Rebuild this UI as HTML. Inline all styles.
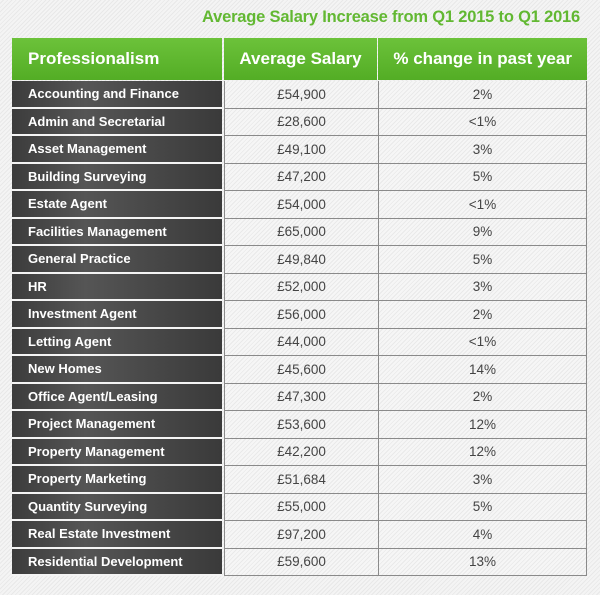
<!DOCTYPE html>
<html><head><meta charset="utf-8"><style>
body{margin:0;width:600px;height:595px;overflow:hidden;font-family:"Liberation Sans",Arial,sans-serif;
background:repeating-linear-gradient(135deg,#f4f4f4 0 2px,#e8e8e8 2px 3px);}
#title{position:absolute;right:20px;top:8px;font-size:16.5px;font-weight:bold;color:#62b832;letter-spacing:-0.2px}
#hdr{position:absolute;left:12px;top:38px;width:575px;height:42px;display:flex}
#hdr div{background:linear-gradient(180deg,#6cc23a,#53ad25);color:#fff;font-weight:bold;font-size:17px;display:flex;align-items:center}
#rows{position:absolute;left:12px;top:81px;width:575px}
.r{display:flex;height:27.5px}
.n{width:210px;box-sizing:border-box;border-bottom:2px solid #f4f4f4;background:linear-gradient(90deg,#3c3c3c,#555 35%,#3a3a3a);color:#fff;font-weight:bold;font-size:13px;display:flex;align-items:center;padding-left:16px}
.v{box-sizing:border-box;border-bottom:1px solid #8a8a8a;border-left:1px solid #8a8a8a;display:flex;align-items:center;justify-content:center;font-size:13.5px;color:#444;background:repeating-linear-gradient(135deg,#f6f6f6 0 2px,#e9e9e9 2px 3px)}
.c2{width:154px;margin-left:2px}.c3{width:209px;border-right:1px solid #8a8a8a}
</style></head><body>
<div id="title">Average Salary Increase from Q1 2015 to Q1 2016</div>
<div id="hdr">
<div style="width:210px;padding-left:16px;box-sizing:border-box">Professionalism</div>
<div style="width:154px;margin-left:2px;justify-content:center">Average Salary</div>
<div style="width:209px;margin-left:1px;justify-content:center">% change in past year</div>
</div>
<div id="rows"></div>
<script>
const categories=["Accounting and Finance","Admin and Secretarial","Asset Management","Building Surveying","Estate Agent","Facilities Management","General Practice","HR","Investment Agent","Letting Agent","New Homes","Office Agent/Leasing","Project Management","Property Management","Property Marketing","Quantity Surveying","Real Estate Investment","Residential Development"];
const salaries=["£54,900","£28,600","£49,100","£47,200","£54,000","£65,000","£49,840","£52,000","£56,000","£44,000","£45,600","£47,300","£53,600","£42,200","£51,684","£55,000","£97,200","£59,600"];
const changes=["2%","<1%","3%","5%","<1%","9%","5%","3%","2%","<1%","14%","2%","12%","12%","3%","5%","4%","13%"];
const body=document.getElementById('rows');
categories.forEach((c,i)=>{
const r=document.createElement('div');r.className='r';


const a=document.createElement('div');a.className='n';a.textContent=c;


const b=document.createElement('div');b.className='v c2';b.textContent=salaries[i];


const d=document.createElement('div');d.className='v c3';d.textContent=changes[i];


r.append(a,b,d);body.appendChild(r);
});
</script>
</body></html>
